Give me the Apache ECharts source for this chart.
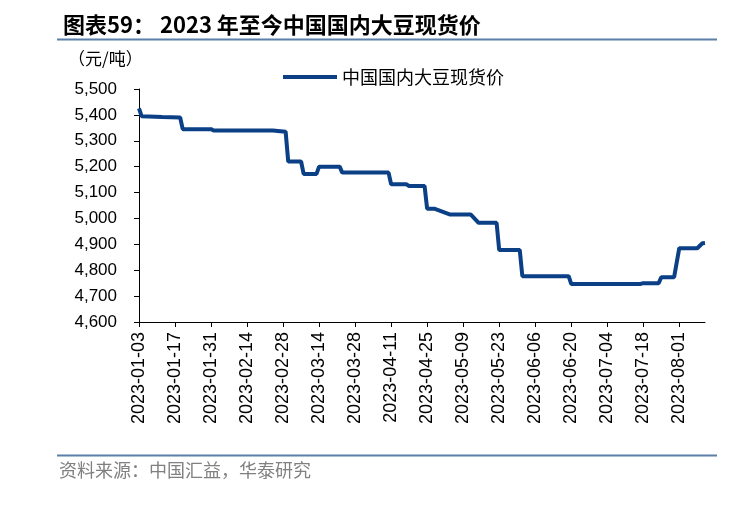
<!DOCTYPE html>
<html>
<head>
<meta charset="utf-8">
<script src="https://cdn.jsdelivr.net/npm/echarts@6/dist/echarts.min.js"></script>
<style>
html,body{margin:0;padding:0;background:#fff;}
#chart{width:734px;height:516px;}
</style>
</head>
<body>
<div id="chart"></div>
<script>
// Vertex dates and prices (元/吨)
var dates = ['2023-01-03','2023-01-04','2023-01-12','2023-01-19','2023-01-20','2023-01-31','2023-02-01','2023-02-24','2023-03-01','2023-03-02','2023-03-07','2023-03-08','2023-03-13','2023-03-14','2023-03-22','2023-03-23','2023-04-10','2023-04-11','2023-04-17','2023-04-18','2023-04-24','2023-04-25','2023-04-28','2023-05-04','2023-05-12','2023-05-15','2023-05-22','2023-05-23','2023-05-31','2023-06-01','2023-06-19','2023-06-20','2023-07-17','2023-07-18','2023-07-24','2023-07-25','2023-07-30','2023-08-01','2023-08-08','2023-08-10','2023-08-11'];
var prices = [5425,5395,5392,5390,5345,5345,5340,5340,5335,5220,5220,5172,5172,5200,5200,5177,5177,5132,5132,5125,5125,5037,5037,5015,5015,4983,4983,4878,4878,4777,4777,4747,4747,4750,4750,4773,4773,4885,4885,4904,4905];
var xTickLabels = ['2023-01-03','2023-01-17','2023-01-31','2023-02-14','2023-02-28','2023-03-14','2023-03-28','2023-04-11','2023-04-25','2023-05-09','2023-05-23','2023-06-06','2023-06-20','2023-07-04','2023-07-18','2023-08-01'];
var xStart = '2023-01-03';
var xEnd = '2023-08-11';
var yMin = 4600, yMax = 5500, yStep = 100;
var seriesName = '中国国内大豆现货价';
var titleText = '图表59： 2023 年至今中国国内大豆现货价';
var unitText = '（元/吨）';
var sourceText = '资料来源：中国汇益，华泰研究';

function dayIdx(s){
  var t0 = Date.UTC(2023,0,3);
  var p = s.split('-');
  var t = Date.UTC(+p[0], +p[1]-1, +p[2]);
  return Math.round((t - t0)/86400000);
}
function idxToDate(i){
  var d = new Date(Date.UTC(2023,0,3) + i*86400000);
  var m = d.getUTCMonth()+1, dd = d.getUTCDate();
  return d.getUTCFullYear() + '-' + (m<10?'0':'') + m + '-' + (dd<10?'0':'') + dd;
}
var seriesData = dates.map(function(d,i){ return [dayIdx(d), prices[i]]; });
var tickVals = xTickLabels.map(dayIdx);

var chart = echarts.init(document.getElementById('chart'), null, {renderer:'canvas'});
var lineColor = '#5b7fa8';
chart.setOption({
  animation:false,
  backgroundColor:'#ffffff',
  title:{
    text:titleText,
    left:58, top:9,
    textStyle:{fontFamily:'"Noto Sans CJK SC", sans-serif', fontWeight:'bold', fontSize:22, color:'#000'}
  },
  graphic:[
    {type:'line', shape:{x1:57,y1:39.5,x2:717,y2:39.5}, style:{stroke:lineColor, lineWidth:2}},
    {type:'line', shape:{x1:57,y1:455.5,x2:717,y2:455.5}, style:{stroke:lineColor, lineWidth:2}},
    {type:'text', left:59, top:461, style:{text:sourceText, fill:'#808080', font:'18px "Noto Sans CJK SC", sans-serif'}},
    {type:'text', left:68, top:50, style:{text:unitText, fill:'#000', font:'17px "Noto Sans CJK SC", sans-serif'}}
  ],
  legend:{
    data:[{name:seriesName, icon:'rect'}],
    left:278, top:63,
    itemWidth:54, itemHeight:4, itemGap:10,
    textStyle:{fontFamily:'"Noto Sans CJK SC", sans-serif', fontSize:18, color:'#000'}
  },
  grid:{left:139, right:29, top:89, bottom:194, containLabel:false},
  xAxis:{
    type:'value',
    min:dayIdx(xStart), max:dayIdx(xEnd),
    splitLine:{show:false},
    axisLine:{show:true, onZero:false, lineStyle:{color:'#000', width:1}},
    axisTick:{show:true, customValues:tickVals, length:5, inside:false, lineStyle:{color:'#000'}},
    axisLabel:{
      customValues:tickVals,
      rotate:90, margin:10, color:'#000',
      fontFamily:'"Liberation Sans", Arial, sans-serif', fontSize:18,
      formatter:function(v){ return idxToDate(v); }
    }
  },
  yAxis:{
    type:'value',
    min:yMin, max:yMax, interval:yStep,
    splitLine:{show:false},
    axisLine:{show:true, lineStyle:{color:'#000', width:1}},
    axisTick:{show:true, length:5, inside:false, lineStyle:{color:'#000'}},
    axisLabel:{
      margin:22, color:'#000',
      fontFamily:'"Liberation Sans", Arial, sans-serif', fontSize:17,
      formatter:function(v){ return v.toLocaleString('en-US'); }
    }
  },
  series:[{
    name:seriesName,
    type:'line',
    data:seriesData,
    showSymbol:false,
    symbol:'none',
    lineStyle:{color:'#0b3f86', width:4},
    itemStyle:{color:'#0b3f86'}
  }]
});
</script>
</body>
</html>
